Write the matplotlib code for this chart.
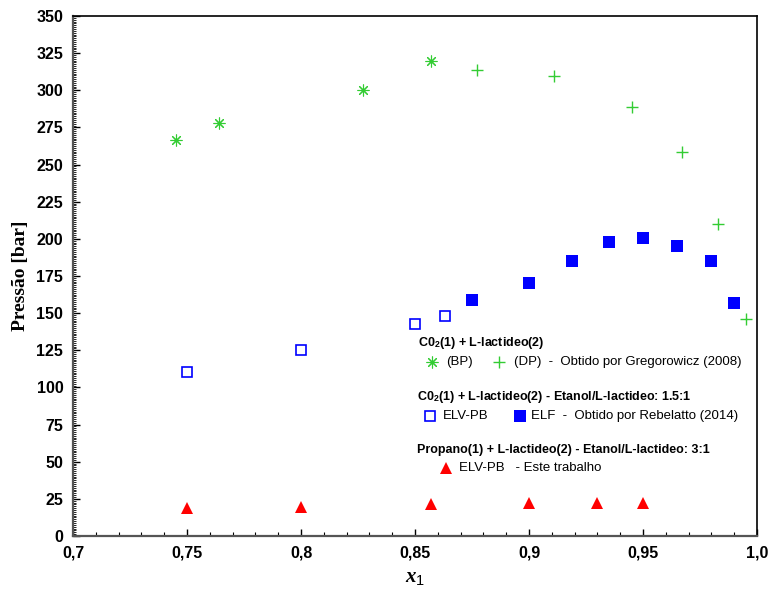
import matplotlib
matplotlib.use("Agg")
import matplotlib.pyplot as plt
from matplotlib.ticker import MultipleLocator, FixedLocator, FixedFormatter

plt.rcParams['font.family'] = ['Liberation Sans', 'DejaVu Sans']
plt.rcParams['mathtext.fontset'] = 'custom'
plt.rcParams['mathtext.rm'] = 'Liberation Sans'
plt.rcParams['mathtext.bf'] = 'Liberation Sans:bold'
plt.rcParams['mathtext.it'] = 'Liberation Serif:bold:italic'

# CO2 + L-lactideo, Gregorowicz (2008)
x_bp = [0.745, 0.764, 0.827, 0.857]
p_bp = [266.5, 278, 300, 319.7]
x_dp = [0.877, 0.911, 0.945, 0.967, 0.983, 0.995]
p_dp = [313.6, 309.8, 288.7, 258.2, 210.2, 146]

# CO2 + L-lactideo - Etanol, Rebelatto (2014)
x_elv = [0.75, 0.80, 0.85, 0.863]
p_elv = [110.4, 125, 142.9, 148]
x_elf = [0.875, 0.90, 0.919, 0.935, 0.95, 0.965, 0.98, 0.99]
p_elf = [158.8, 170, 185, 197.8, 200.3, 195, 185, 156.6]

# Propano + L-lactideo - Etanol (este trabalho)
x_prop = [0.75, 0.80, 0.857, 0.90, 0.93, 0.95]
p_prop = [18.8, 19.7, 21.3, 22, 22, 22]

xticks = [0.7, 0.75, 0.8, 0.85, 0.9, 0.95, 1.0]
xtick_labels = ['0,7', '0,75', '0,8', '0,85', '0,9', '0,95', '1,0']

green = '#33cc33'
blue = '#0000ff'
red = '#ff0000'

fig = plt.figure(figsize=(7.7, 5.97), dpi=100)
ax = fig.add_axes([73/770, 61/597, 684/770, 520/597])

ax.plot(x_bp, p_bp, ls='none', marker=(8, 2, 0), ms=8.5, mew=0.8, color=green)
ax.plot(x_dp, p_dp, ls='none', marker='+', ms=9, mew=1.0, color=green)
ax.plot(x_elv, p_elv, ls='none', marker='s', ms=7.5, mew=1.2, mfc='white', mec=blue)
ax.plot(x_elf, p_elf, ls='none', marker='s', ms=8, mew=0, color=blue)
ax.plot(x_prop, p_prop, ls='none', marker='^', ms=8, mew=0, color=red)

ax.set_xlim(0.7, 1.0)
ax.set_ylim(0, 350)
ax.xaxis.set_major_locator(FixedLocator(xticks))
ax.xaxis.set_major_formatter(FixedFormatter(xtick_labels))
ax.xaxis.set_minor_locator(MultipleLocator(0.01))
ax.yaxis.set_major_locator(MultipleLocator(25))
ax.yaxis.set_minor_locator(MultipleLocator(1.25))
ax.tick_params(which='both', direction='in', top=False, right=False)
ax.tick_params(axis='x', which='major', length=5, width=1, pad=7, labelsize=11.5)
ax.tick_params(axis='x', which='minor', length=3, width=0.8)
ax.tick_params(axis='y', which='major', length=5, width=1, pad=7, labelsize=11.5)
ax.tick_params(axis='y', which='minor', length=2.5, width=0.6)
for lab in ax.get_xticklabels() + ax.get_yticklabels():
    lab.set_fontweight('bold')

for s in ['left', 'bottom']:
    ax.spines[s].set_color('#555555')
    ax.spines[s].set_linewidth(1.6)
for s in ['top', 'right']:
    ax.spines[s].set_color('black')
    ax.spines[s].set_linewidth(1.2)

ax.set_ylabel('Pressão [bar]', family='Liberation Serif', fontweight='bold', fontsize=14, labelpad=5)
ax.set_xlabel(r'$x_{\mathit{1}}$', fontsize=15, labelpad=5)

# legenda manual
def fx(px):
    return (px - 73) / 684

def fy(py):
    return (536 - py) / 520

tr = ax.transAxes
fs = 9.5
fs_h = 9
ax.text(fx(418), fy(343), r'C0$_\mathbf{2}$(1) + L-lactideo(2)', transform=tr, fontsize=fs_h,
        fontweight='bold', va='center')
ax.plot([fx(432)], [fy(362)], transform=tr, marker=(8, 2, 0), ms=8.5, mew=0.8, color=green, ls='none')
ax.text(fx(446), fy(362), '(BP)', transform=tr, fontsize=fs, va='center')
ax.plot([fx(499)], [fy(362)], transform=tr, marker='+', ms=9, mew=1.0, color=green, ls='none')
ax.text(fx(514), fy(362), '(DP)  -  Obtido por Gregorowicz (2008)', transform=tr, fontsize=fs, va='center')

ax.text(fx(417), fy(397), r'C0$_\mathbf{2}$(1) + L-lactideo(2) - Etanol/L-lactideo: 1.5:1', transform=tr,
        fontsize=fs_h, fontweight='bold', va='center')
ax.plot([fx(430)], [fy(416)], transform=tr, marker='s', ms=7.5, mew=1.2, mfc='white', mec=blue, ls='none')
ax.text(fx(443), fy(416), 'ELV-PB', transform=tr, fontsize=fs, va='center')
ax.plot([fx(520)], [fy(416)], transform=tr, marker='s', ms=8, mew=0, color=blue, ls='none')
ax.text(fx(531), fy(416), 'ELF  -  Obtido por Rebelatto (2014)', transform=tr, fontsize=fs, va='center')

ax.text(fx(417), fy(450), 'Propano(1) + L-lactideo(2) - Etanol/L-lactideo: 3:1', transform=tr,
        fontsize=fs_h, fontweight='bold', va='center')
ax.plot([fx(446)], [fy(468)], transform=tr, marker='^', ms=8, mew=0, color=red, ls='none')
ax.text(fx(459), fy(468), 'ELV-PB   - Este trabalho', transform=tr, fontsize=fs, va='center')

fig.savefig('out.png', dpi=100)
